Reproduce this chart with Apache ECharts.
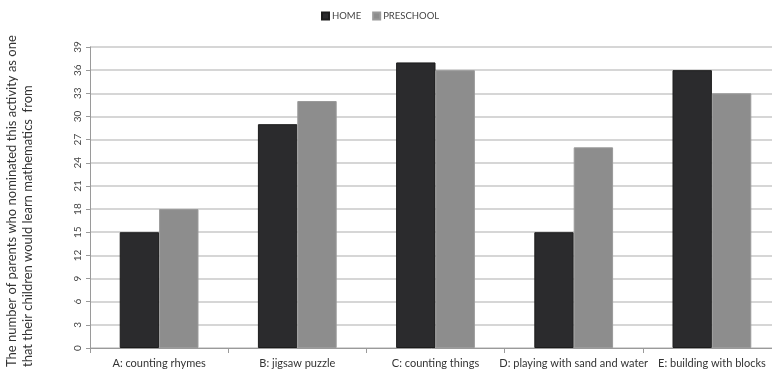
<!DOCTYPE html>
<html>
<head>
<meta charset="utf-8">
<script src="https://cdn.jsdelivr.net/npm/echarts@6/dist/echarts.min.js"></script>
<style>
  html, body { margin: 0; padding: 0; background: #fff; }
  #chart { width: 772px; height: 374px; }
</style>
</head>
<body>
<div id="chart"></div>
<script>
// Activities parents nominated as ways children learn mathematics
const categories = [
  'A: counting rhymes',
  'B: jigsaw puzzle',
  'C: counting things',
  'D: playing with sand and water',
  'E: building with blocks'
];
const homeValues = [15, 29, 37, 15, 36];
const preschoolValues = [18, 32, 36, 26, 33];
const seriesNames = ['HOME', 'PRESCHOOL'];
const yTicks = { min: 0, max: 39, interval: 3 };
const yTitleLines = [
  'The number of parents who nominated this activity as one',
  'that their children would learn mathematics  from'
];

const FONT = 'Lato, "Open Sans", sans-serif';

const chart = echarts.init(document.getElementById('chart'), null, { renderer: 'canvas' });
chart.setOption({
  animation: false,
  backgroundColor: '#ffffff',
  textStyle: { fontFamily: FONT, color: '#333' },
  legend: {
    top: 6,
    left: 316,
    itemWidth: 7,
    itemHeight: 7,
    itemGap: 11,
    icon: 'rect',
    textStyle: { fontSize: 9.5, color: '#444', fontFamily: FONT, padding: [0, 0, 0, -2] },
    data: seriesNames
  },
  grid: { left: 90, right: -9, top: 47, bottom: 26, containLabel: false, outerBoundsMode: 'none' },
  xAxis: {
    type: 'category',
    data: categories,
    axisLine: { show: true, lineStyle: { color: '#9a9a9a', width: 1 } },
    axisTick: { show: true, length: 5, alignWithLabel: false, lineStyle: { color: '#9a9a9a' } },
    axisLabel: { fontSize: 11, color: '#333', margin: 10, interval: 0, fontFamily: FONT },
    splitLine: { show: false }
  },
  yAxis: {
    type: 'value',
    min: yTicks.min,
    max: yTicks.max,
    interval: yTicks.interval,
    axisLine: { show: true, lineStyle: { color: '#9a9a9a', width: 1 } },
    axisTick: { show: true, length: 4, lineStyle: { color: '#9a9a9a' } },
    axisLabel: { fontSize: 10, color: '#444', rotate: 90, margin: 7, fontFamily: FONT },
    splitLine: { show: true, lineStyle: { color: '#c8c8c8', width: 1.5 } }
  },
  graphic: [{
    type: 'text',
    x: 4,
    y: 367,
    rotation: Math.PI / 2,
    style: {
      text: yTitleLines.join('\n'),
      font: '13px ' + FONT,
      fill: '#333',
      lineHeight: 16,
      align: 'left',
      verticalAlign: 'top'
    }
  }],
  series: [
    {
      name: seriesNames[0],
      type: 'bar',
      data: homeValues,
      barGap: '0%',
      barCategoryGap: '43%',
      itemStyle: { color: '#2b2b2d', borderColor: '#1c1c1c', borderWidth: 1 }
    },
    {
      name: seriesNames[1],
      type: 'bar',
      data: preschoolValues,
      barGap: '0%',
      barCategoryGap: '43%',
      itemStyle: { color: '#8d8d8d', borderColor: '#9a9a9a', borderWidth: 1 }
    }
  ]
});
</script>
</body>
</html>
